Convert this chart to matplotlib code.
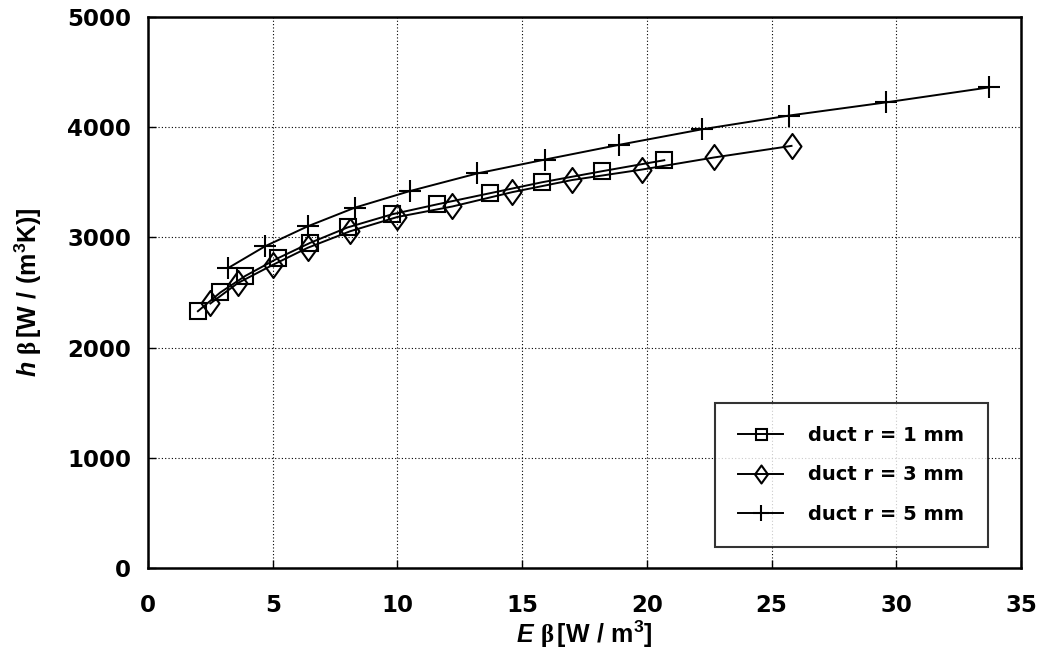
import matplotlib
matplotlib.use("Agg")
import matplotlib.pyplot as plt
from matplotlib.path import Path

# Data
x_r1 = [2.0, 2.9, 3.9, 5.2, 6.5, 8.0, 9.8, 11.6, 13.7, 15.8, 18.2, 20.7]
y_r1 = [2330, 2500, 2650, 2810, 2950, 3090, 3210, 3300, 3400, 3500, 3600, 3700]

x_r3 = [2.5, 3.6, 5.0, 6.4, 8.1, 10.0, 12.2, 14.6, 17.0, 19.8, 22.7, 25.8]
y_r3 = [2400, 2585, 2750, 2905, 3055, 3185, 3280, 3410, 3520, 3615, 3725, 3830]

x_r5 = [3.2, 4.7, 6.4, 8.3, 10.5, 13.2, 15.9, 18.9, 22.2, 25.7, 29.6, 33.7]
y_r5 = [2720, 2920, 3100, 3270, 3420, 3580, 3705, 3840, 3980, 4105, 4225, 4360]

labels = ["duct r = 1 mm", "duct r = 3 mm", "duct r = 5 mm"]
x_ticks = [0, 5, 10, 15, 20, 25, 30, 35]
y_ticks = [0, 1000, 2000, 3000, 4000, 5000]

plt.rcParams['font.family'] = ['DejaVu Sans']
plt.rcParams['font.weight'] = 'bold'
plt.rcParams['mathtext.fontset'] = 'custom'
plt.rcParams['mathtext.rm'] = 'Liberation Sans:bold'
plt.rcParams['mathtext.it'] = 'Liberation Sans:bold:italic'
plt.rcParams['mathtext.bf'] = 'Liberation Sans:bold'
plt.rcParams['mathtext.sf'] = 'Liberation Serif'

diamond = Path([(0, 1), (0.72, 0), (0, -1), (-0.72, 0), (0, 1)],
               [Path.MOVETO, Path.LINETO, Path.LINETO, Path.LINETO, Path.CLOSEPOLY])

fig = plt.figure(figsize=(10.52, 6.51), dpi=100)
ax = fig.add_axes([0.1407, 0.1275, 0.8298, 0.8465])

ax.plot(x_r1, y_r1, color='black', lw=1.4, marker='s', markersize=11,
        markerfacecolor='none', markeredgewidth=1.5, label=labels[0])
ax.plot(x_r3, y_r3, color='black', lw=1.4, marker=diamond, markersize=18,
        markerfacecolor='none', markeredgewidth=1.5, label=labels[1])
ax.plot(x_r5, y_r5, color='black', lw=1.4, marker='+', markersize=16,
        markeredgewidth=1.5, label=labels[2])

ax.set_xlim(0, 35)
ax.set_ylim(0, 5000)
ax.set_xticks(x_ticks)
ax.set_yticks(y_ticks)
ax.tick_params(labelsize=16.5, direction='in', length=6, width=1)
ax.tick_params(axis='x', pad=19)
ax.tick_params(axis='y', pad=12)
for lab in ax.get_xticklabels() + ax.get_yticklabels():
    lab.set_fontweight('bold')

ax.grid(True, color='black', linestyle=(0, (1, 2)), linewidth=0.8)
for s in ax.spines.values():
    s.set_linewidth(1.8)

ax.set_xlabel(r'$E\ \mathsf{\beta}\,\mathrm{[W\ /\ m^3]}$', fontsize=18, labelpad=1)
ax.set_ylabel(r'$h\ \mathsf{\beta}\,\mathrm{[W\ /\ (m^3K)]}$', fontsize=18, labelpad=17)

leg = ax.legend(loc='lower right', bbox_to_anchor=(0.962, 0.038), fontsize=14,
                frameon=True, fancybox=False, edgecolor='black',
                handlelength=2.3, borderpad=1.2, labelspacing=1.05,
                handletextpad=1.3, borderaxespad=0)
leg.get_frame().set_linewidth(1.5)
for t in leg.get_texts():
    t.set_fontweight('bold')
for h in leg.legend_handles:
    h.set_markersize(h.get_markersize() * 0.72)

fig.savefig('out.png', dpi=100)
